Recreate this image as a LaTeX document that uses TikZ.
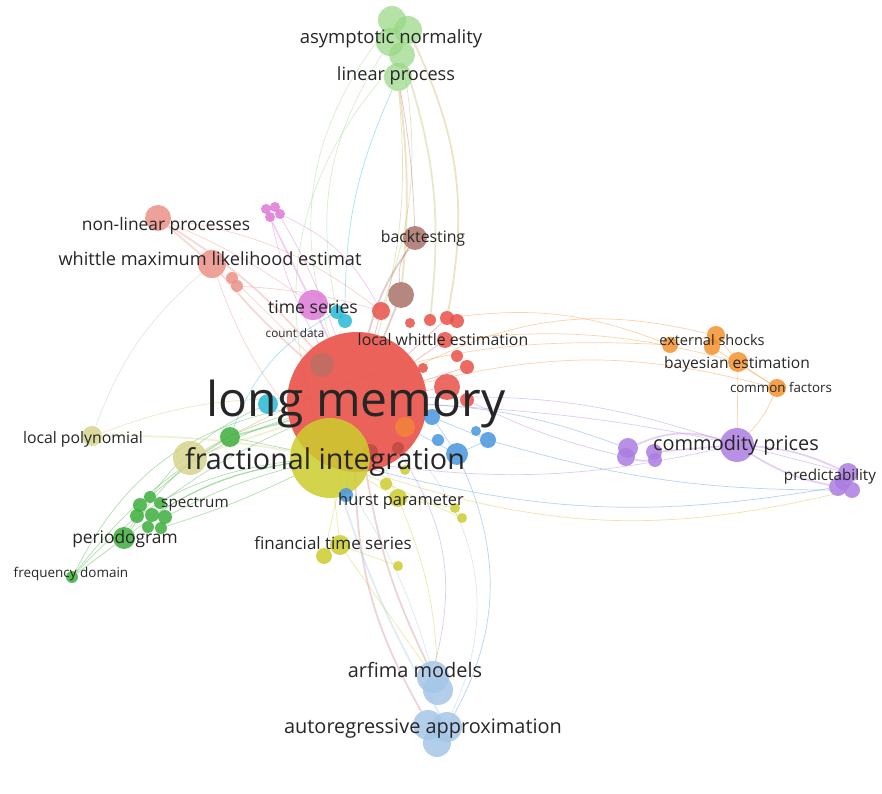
\documentclass[tikz,border=0pt]{standalone}
\usepackage{fontspec}
\setmainfont{Open Sans}
\usepackage{tikz}
\usetikzlibrary{positioning,backgrounds}
\definecolor{vred}{RGB}{232,82,72}
\definecolor{vbrown}{RGB}{170,115,105}
\definecolor{vsalmon}{RGB}{236,145,135}
\definecolor{vpink}{RGB}{222,120,215}
\definecolor{vcyan}{RGB}{40,185,215}
\definecolor{vgreen}{RGB}{62,175,62}
\definecolor{volive}{RGB}{215,212,140}
\definecolor{vyellow}{RGB}{205,205,45}
\definecolor{vblue}{RGB}{72,150,222}
\definecolor{vlgreen}{RGB}{150,215,130}
\definecolor{vorange}{RGB}{245,145,45}
\definecolor{vpurple}{RGB}{172,125,225}
\definecolor{vlblue}{RGB}{165,198,232}
\definecolor{labgray}{RGB}{38,38,38}

\begin{document}
\begin{tikzpicture}[
    x=0.03cm, y=-0.03cm,
    kw/.style={circle, fill=#1, fill opacity=0.85, inner sep=0pt},
    rad/.style={minimum size=#1*0.06cm},
    lab/.style={text=labgray, inner sep=0pt, font=\fontsize{#1}{#1}\selectfont},
    link/.style={line width=0.6pt, draw opacity=0.4},
    wide link/.style={line width=1.5pt, draw opacity=0.35}
]
\useasboundingbox (0,0) rectangle (882,794);

% Red cluster
\node[kw=vred, rad=70, fill opacity=0.9] (lm) at (357,402) {};
\node[kw=vred, rad=9] (r1) at (381,311) {};
\node[kw=vred, rad=5] (r2) at (410,323) {};
\node[kw=vred, rad=6] (r3) at (430,320) {};
\node[kw=vred, rad=7] (r4) at (447,318) {};
\node[kw=vred, rad=7] (r5) at (457,321) {};
\node[kw=vred, rad=8] (r6) at (445,340) {};
\node[kw=vred, rad=6] (r7) at (457,356) {};
\node[kw=vred, rad=7] (r8) at (467,367) {};
\node[kw=vred, rad=5] (r9) at (423,368) {};
\node[kw=vred, rad=13] (r10) at (447,387) {};
\node[kw=vred, rad=7] (r11) at (467,400) {};
\node[kw=vred!70!black, rad=8, fill opacity=0.5] (r12) at (370,452) {};
\node[kw=vred!70!black, rad=6, fill opacity=0.5] (r13) at (398,448) {};

% Brown cluster
\node[kw=vbrown, rad=12] (bt) at (415,238) {};
\node[kw=vbrown, rad=13] (b2) at (401,295) {};
\node[kw=vbrown, rad=12, fill opacity=0.6] (b3) at (322,365) {};

% Salmon cluster
\node[kw=vsalmon, rad=13] (nlp) at (158,218) {};
\node[kw=vsalmon, rad=14] (wml) at (212,264) {};
\node[kw=vsalmon, rad=6] (s3) at (232,278) {};
\node[kw=vsalmon, rad=6] (s4) at (237,286) {};

% Pink cluster
\node[kw=vpink, rad=5] (pk1) at (266,209) {};
\node[kw=vpink, rad=5] (pk2) at (275,207) {};
\node[kw=vpink, rad=5] (pk3) at (280,214) {};
\node[kw=vpink, rad=5] (pk4) at (270,217) {};
\node[kw=vpink, rad=15] (ts) at (313,305) {};

% Cyan cluster
\node[kw=vcyan, rad=7] (c1) at (337,312) {};
\node[kw=vcyan, rad=7] (c2) at (345,321) {};
\node[kw=vcyan, rad=10] (c3) at (268,404) {};

% Green cluster
\node[kw=vgreen, rad=10] (g1) at (230,437) {};
\node[kw=vgreen, rad=7] (g2) at (140,505) {};
\node[kw=vgreen, rad=6] (g3) at (150,497) {};
\node[kw=vgreen, rad=6] (g4) at (160,503) {};
\node[kw=vgreen, rad=7] (g5) at (137,516) {};
\node[kw=vgreen, rad=7] (g6) at (152,515) {};
\node[kw=vgreen, rad=7] (g7) at (165,517) {};
\node[kw=vgreen, rad=6] (g8) at (148,527) {};
\node[kw=vgreen, rad=6] (g9) at (161,528) {};
\node[kw=vgreen, rad=11] (pg) at (124,538) {};
\node[kw=vgreen, rad=6] (fd) at (72,577) {};

% Olive cluster
\node[kw=volive, rad=10] (lpoly) at (92,436) {};
\node[kw=volive, rad=17] (lp2) at (190,458) {};

% Yellow cluster
\node[kw=vyellow, rad=40] (fi) at (330,458) {};
\node[kw=vyellow, rad=10] (y1) at (340,545) {};
\node[kw=vyellow, rad=8] (y2) at (324,556) {};
\node[kw=vyellow, rad=9] (y3) at (398,498) {};
\node[kw=vyellow, rad=6] (y4) at (386,484) {};
\node[kw=vyellow, rad=5] (y5) at (405,470) {};
\node[kw=vyellow, rad=5] (y6) at (455,508) {};
\node[kw=vyellow, rad=5] (y7) at (462,518) {};
\node[kw=vyellow, rad=5] (y8) at (398,566) {};

% Blue cluster
\node[kw=vblue, rad=8] (bl1) at (432,417) {};
\node[kw=vblue, rad=6] (bl2) at (438,440) {};
\node[kw=vblue, rad=11] (bl3) at (457,454) {};
\node[kw=vblue, rad=5] (bl4) at (476,431) {};
\node[kw=vblue, rad=8] (bl5) at (488,440) {};
\node[kw=vblue, rad=7] (bl6) at (346,495) {};

% Top green cluster
\node[kw=vlgreen, rad=14, fill opacity=0.7] (tg1) at (392,20) {};
\node[kw=vlgreen, rad=14, fill opacity=0.7] (tg2) at (408,30) {};
\node[kw=vlgreen, rad=14, fill opacity=0.7] (tg3) at (390,42) {};
\node[kw=vlgreen, rad=13, fill opacity=0.7] (tg4) at (402,55) {};
\node[kw=vlgreen, rad=14, fill opacity=0.7] (tg5) at (398,77) {};

% Orange cluster
\node[kw=vorange, rad=8] (o1) at (670,345) {};
\node[kw=vorange, rad=9] (o2) at (716,335) {};
\node[kw=vorange, rad=8] (o3) at (712,347) {};
\node[kw=vorange, rad=10] (o4) at (738,362) {};
\node[kw=vorange, rad=9] (o5) at (777,388) {};
\node[kw=vorange, rad=10, fill opacity=0.6] (o6) at (405,427) {};

% Purple cluster
\node[kw=vpurple, rad=17] (cp) at (737,445) {};
\node[kw=vpurple, rad=10] (pu1) at (628,448) {};
\node[kw=vpurple, rad=9] (pu2) at (626,457) {};
\node[kw=vpurple, rad=8] (pu3) at (654,452) {};
\node[kw=vpurple, rad=7] (pu4) at (655,460) {};
\node[kw=vpurple, rad=10] (pr1) at (848,473) {};
\node[kw=vpurple, rad=8] (pr4) at (843,482) {};
\node[kw=vpurple, rad=9] (pr2) at (838,487) {};
\node[kw=vpurple, rad=8] (pr3) at (852,490) {};

% Light blue cluster
\node[kw=vlblue, rad=16] (am1) at (433,677) {};
\node[kw=vlblue, rad=15] (am2) at (438,690) {};
\node[kw=vlblue, rad=15] (aa1) at (428,725) {};
\node[kw=vlblue, rad=15] (aa2) at (447,727) {};
\node[kw=vlblue, rad=14] (aa3) at (437,743) {};

% Links
\begin{scope}[on background layer]
\fill[white] (0,0) rectangle (882,794);
\draw[link, vlgreen!60!vorange] (tg5) to[bend left=10] (lm);
\draw[link, vlgreen!60!vorange] (tg4) to[bend left=14] (r1);
\draw[wide link, vorange!60!vlgreen] (tg5) to[bend left=6] (b2);
\draw[link, vlgreen] (tg3) to[bend right=22] (c1);
\draw[link, vlgreen] (tg1) to[bend right=28] (lm);
\draw[wide link, vlgreen!50!vorange] (tg2) to[bend left=18] (r4);
\draw[wide link, vlgreen!70!vorange] (tg4) to[bend left=12] (r3);
\draw[link, vbrown] (tg5) to[bend left=4] (bt);
\draw[link, vlgreen] (tg4) to[bend right=30] (fi);
\draw[link, vcyan] (tg5) to[bend right=12] (c2);
\draw[wide link, vsalmon] (nlp) to[bend left=8] (lm);
\draw[wide link, vsalmon] (nlp) to (wml);
\draw[wide link, vsalmon] (wml) to[bend right=4] (lm);
\draw[link, vsalmon] (nlp) to[bend left=14] (r1);
\draw[link, vsalmon] (wml) to[bend right=10] (fi);
\draw[link, vsalmon] (s3) to (lm);
\draw[link, vsalmon] (s4) to[bend left=6] (r1);
\draw[link, vsalmon] (nlp) to[bend left=6] (ts);
\draw[link, gray!50] (wml) to[bend right=14] (lpoly);
\draw[wide link, vpink] (pk1) to (ts);
\draw[link, vpink] (pk2) to[bend left=5] (lm);
\draw[link, vpink] (pk3) to[bend left=18] (r1);
\draw[link, vpink] (pk4) to[bend right=8] (lm);
\draw[wide link, vpink] (ts) to (lm);
\draw[link, vbrown] (bt) to[bend right=20] (b2);
\draw[wide link, vbrown] (bt) to[bend right=10] (lm);
\draw[wide link, vbrown] (b2) to (lm);
\draw[link, vorange] (r4) to[bend left=14] (o1);
\draw[link, vorange] (lm) to[bend left=20] (o2);
\draw[link, vorange] (r6) to[bend left=10] (o4);
\draw[link, vorange] (lm) to[bend left=14] (o5);
\draw[link, vorange] (lp2) to[bend left=16] (o1);
\draw[link, vpurple] (lm) to[bend left=10] (cp);
\draw[link, vpurple] (lm) to[bend left=6] (pr1);
\draw[link, vblue] (lm) to[bend left=8] (pu1);
\draw[link, vpurple] (fi) to[bend right=10] (cp);
\draw[link, vblue] (fi) to[bend right=12] (pr2);
\draw[link, vyellow!70!vorange] (fi) to[bend right=16] (pr3);
\draw[link, vpurple] (r11) to[bend right=6] (pu2);
\draw[link, vorange] (o5) to[bend left=10] (cp);
\draw[link, vorange] (o4) to (cp);
\draw[link, vorange] (o1) to (o2);
\draw[link, vorange] (o2) to (o4);
\draw[link, vorange] (o4) to (o5);
\draw[link, vorange] (o3) to (o5);
\draw[wide link, vpurple] (cp) to[bend left=10] (pr1);
\draw[wide link, vpurple] (cp) to[bend right=10] (pr2);
\draw[wide link, vpurple] (pu1) to[bend left=20] (cp);
\draw[wide link, vpurple] (pu3) to (cp);
\draw[wide link, vpurple] (pu2) to[bend right=10] (pu4);
\draw[wide link, vred!60!vlblue] (lm) to[bend right=8] (am1);
\draw[wide link, vred!60!vlblue] (lm) to[bend right=14] (aa1);
\draw[link, vlblue] (fi) to[bend left=8] (am2);
\draw[wide link, vlblue] (fi) to[bend right=6] (aa2);
\draw[link, vblue] (bl3) to[bend left=28] (aa3);
\draw[link, vpurple] (lm) to[bend left=24] (am1);
\draw[link, vlblue] (lm) to[bend left=34] (aa2);
\draw[link, vyellow] (y1) to (am1);
\draw[link, vyellow] (y3) to[bend left=10] (am2);
\draw[wide link, vgreen] (g1) to (lm);
\draw[link, vgreen] (g1) to (fi);
\draw[link, vgreen] (pg) to[bend left=14] (fi);
\draw[link, vgreen] (pg) to[bend left=20] (lm);
\draw[link, vgreen] (fd) to[bend left=20] (fi);
\draw[link, vgreen] (fd) to[bend left=26] (lm);
\draw[link, vgreen] (fd) to[bend left=10] (g1);
\draw[link, vgreen] (g6) to[bend left=10] (fi);
\draw[link, vgreen] (g2) to[bend left=12] (lm);
\draw[link, vgreen] (g7) to[bend left=6] (fi);
\draw[link, vgreen] (g9) to[bend right=4] (fi);
\draw[link, vgreen] (pg) to (g5);
\draw[link, vgreen] (fd) to (pg);
\draw[link, vgreen] (g4) to[bend left=6] (lm);
\draw[link, vgreen] (g3) to[bend left=14] (c3);
\draw[wide link, volive] (lpoly) to[bend left=5] (fi);
\draw[link, volive!70!vorange] (lpoly) to[bend left=10] (lm);
\draw[wide link, volive] (lp2) to (lm);
\draw[link, vyellow] (fi) to (y1);
\draw[link, vyellow] (fi) to (y3);
\draw[link, vyellow] (y3) to (y6);
\draw[link, vyellow] (y1) to (y8);
\draw[link, vyellow] (fi) to (y7);
\draw[link, vyellow] (lm) to (y2);
\draw[link, vyellow] (lm) to (y3);
\draw[link, vblue] (lm) to (bl3);
\draw[link, vblue] (bl1) to (bl5);
\draw[link, vblue] (bl3) to (bl5);
\draw[link, vblue] (bl1) to (bl3);
\draw[link, vblue] (bl6) to (lm);
\draw[link, vblue] (bl5) to[bend right=8] (pr3);
\draw[link, vcyan] (c3) to[bend left=12] (lm);
\draw[link, vcyan] (c1) to[bend right=20] (g1);
\draw[link, vred] (r1) to (lm);
\draw[link, vred] (r4) to (lm);
\draw[link, vred] (r6) to (lm);
\draw[link, vred] (r8) to (lm);
\draw[link, vred] (r10) to (lm);
\end{scope}

% Labels
\node[lab=41pt] (t-lm) at (356,404) {long memory};
\node[lab=24.5pt] (t-fi) at (325,462) {fractional integration};
\node[lab=15.8pt] (t-an) at (391,39) {asymptotic normality};
\node[lab=15.5pt] (t-lp) at (396,76) {linear process};
\node[lab=14.8pt] (t-nlp) at (166,226) {non-linear processes};
\node[lab=15.5pt] (t-wml) at (210,259) {whittle maximum likelihood estimat};
\node[lab=13.5pt] (t-bt) at (423,238) {backtesting};
\node[lab=15pt] (t-ts) at (313,307) {time series};
\node[lab=10pt] (t-cd) at (295,333) {count data};
\node[lab=13.5pt] (t-lwe) at (443,340) {local whittle estimation};
\node[lab=12.4pt] (t-es) at (712,340) {external shocks};
\node[lab=13.3pt] (t-be) at (737,364) {bayesian estimation};
\node[lab=11.4pt] (t-cf) at (781,387) {common factors};
\node[lab=17pt] (t-cp) at (736,445) {commodity prices};
\node[lab=13pt] (t-pr) at (830,477) {predictability};
\node[lab=13.5pt] (t-lpoly) at (83,439) {local polynomial};
\node[lab=13pt] (t-sp) at (195,504) {spectrum};
\node[lab=14pt] (t-hp) at (401,501) {hurst parameter};
\node[lab=14.8pt] (t-pg) at (125,539) {periodogram};
\node[lab=14.5pt] (t-fts) at (333,543) {financial time series};
\node[lab=11.5pt] (t-fd) at (71,574) {frequency domain};
\node[lab=17pt] (t-am) at (415,670) {arfima models};
\node[lab=17pt] (t-aa) at (423,729) {autoregressive approximation};

\end{tikzpicture}
\end{document}
